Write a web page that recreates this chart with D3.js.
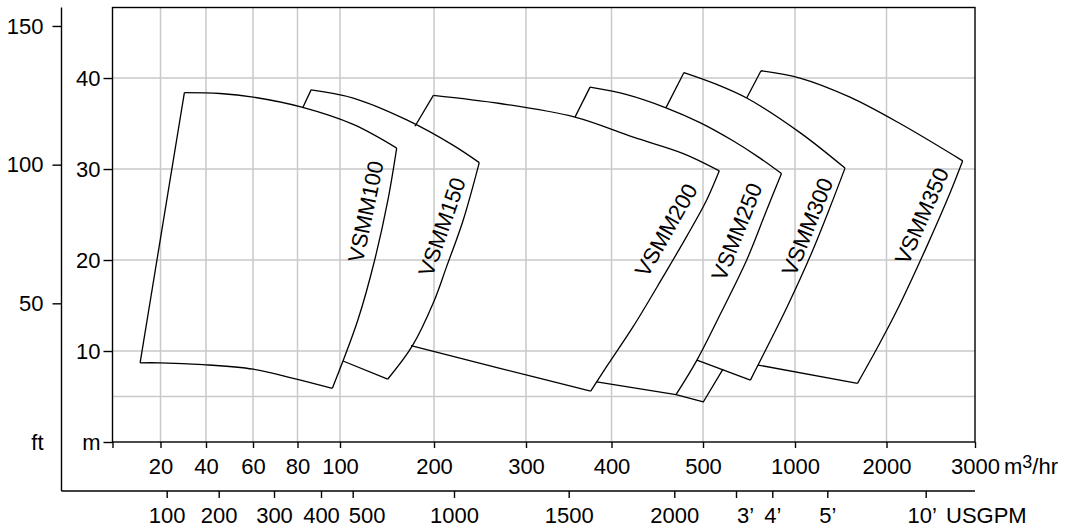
<!DOCTYPE html>
<html><head><meta charset="utf-8">
<script src="https://cdn.jsdelivr.net/npm/d3@7"></script>
<style>
html,body{margin:0;padding:0;background:#fff;}
svg{display:block;font-family:"Liberation Sans",Arial,Helvetica,sans-serif;}
</style></head><body>
<svg id="chart" width="1078" height="531"></svg>
<script>
// ---------------- data ----------------
const flowTicks = [0, 20, 40, 60, 80, 100, 200, 300, 400, 500, 1000, 2000, 3000];
const flowTickLabels = ["", "20", "40", "60", "80", "100", "200", "300", "400", "500", "1000", "2000", "3000"];
const gpmTicks = [100, 200, 300, 400, 500, 1000, 1500, 2000, 3000, 4000, 5000, 10000];
const gpmTickLabels = ["100", "200", "300", "400", "500", "1000", "1500", "2000", "3’", "4’", "5’", "10’"];
const headTicksM = [0, 10, 20, 30, 40];
const headTickLabelsM = ["m", "10", "20", "30", "40"];
const headGridM = [5, 10, 20, 30, 40];
const headTicksFt = [50, 100, 150];
const models = ["VSMM100", "VSMM150", "VSMM200", "VSMM250", "VSMM300", "VSMM350"];

// envelope edges: [flow m3/hr, head m]
const vsmm100Left   = [[11.5, 8.7], [30.5, 38.4]];
const vsmm100Top    = [[30.5, 38.4], [46, 38.3], [60.1, 37.9], [82, 36.8], [114.1, 34.9], [160.3, 32.3]];
const vsmm100Right  = [[160.3, 32.3], [151, 26.6], [136.9, 20], [119, 13.4], [96.4, 5.9]];
const vsmm100Bottom = [[96.4, 5.9], [78.1, 7.0], [60.1, 8.0], [38.8, 8.5], [19.8, 8.7], [11.5, 8.7]];

const vsmm150Left   = [[82.4, 36.7], [86.4, 38.7]];
const vsmm150Top    = [[86.4, 38.7], [114.1, 37.8], [171, 35.4], [221, 32.6], [249.2, 30.7]];
const vsmm150Right  = [[249.2, 30.7], [231.8, 24.4], [213.8, 19.3], [199.3, 15.3], [176.6, 10.5], [150.7, 6.9]];
const vsmm150Bottom = [[150.7, 6.9], [103.2, 8.9]];

const vsmm200Left   = [[179.8, 34.7], [199.3, 38.1]];
const vsmm200Top    = [[199.3, 38.1], [271.7, 37.2], [357.3, 35.7], [423.8, 33.5], [478.5, 31.7], [588.6, 29.8]];
const vsmm200Right  = [[588.6, 29.8], [520.1, 26.6], [482.2, 22.6], [456.6, 18.2], [423.8, 12.7], [394.4, 8.3], [375.7, 5.6]];
const vsmm200Bottom = [[375.7, 5.6], [271.7, 8.1], [175.5, 10.6]];

const vsmm250Left   = [[357.3, 35.7], [374.9, 39.0]];
const vsmm250Top    = [[374.9, 39.0], [415.8, 38.2], [460.3, 36.7], [496.7, 35.1], [663, 33.1], [809.8, 31.2], [926.6, 29.5]];
const vsmm250Right  = [[926.6, 29.5], [846.2, 25.5], [737.5, 20], [597.8, 14.2], [493.4, 9.0], [470.5, 5.2]];
const vsmm250Bottom = [[470.5, 5.2], [382.7, 6.6]];
const vsmm250Stub   = [[470.5, 5.2], [501.6, 4.4], [608.7, 8.0]];

const vsmm300Left   = [[459.6, 36.75], [479.2, 40.6]];
const vsmm300Top    = [[479.2, 40.6], [574.5, 39.3], [737.5, 37.8], [1054.6, 34.0], [1546.5, 30.1]];
const vsmm300Right  = [[1546.5, 30.1], [1386.9, 25.9], [1178.1, 20.7], [958.2, 14.9], [795.1, 8.3], [757.6, 6.8]];
const vsmm300Bottom = [[757.6, 6.8], [493.4, 9.0]];

const vsmm350Left   = [[737.5, 37.8], [815.2, 40.8]];
const vsmm350Top    = [[815.2, 40.8], [1054.6, 40.0], [1601.1, 37.9], [2152.5, 35.0], [2861, 30.9]];
const vsmm350Right  = [[2861, 30.9], [2715.2, 27.3], [2455.4, 21.5], [2119.8, 14.5], [1907.1, 10.5], [1683.1, 6.45]];
const vsmm350Bottom = [[1683.1, 6.45], [799, 8.46]];

// ---------------- layout ----------------
const svg = d3.select("#chart");
const plotL = 112.5, plotR = 975, plotT = 7.5, plotB = 442;
const outerL = 61.5, outerB = 491;
const FONT = 22;
// small horizontal nudges of crowded USGPM labels, as in the original drawing
const gpmLabelNudge = { 500: 14, 3000: 9, 10000: -4 };

// piecewise flow scale (the chart's own non-uniform flow axis)
const x = d3.scaleLinear()
  .domain(flowTicks)
  .range([112.5, 160.5, 206, 253, 297.5, 340, 434, 526, 611.5, 703, 795, 886.5, 975]);
const xg = d3.scaleLinear()
  .domain(gpmTicks)
  .range([166.7, 218.7, 274, 321, 352.7, 454, 568.7, 674.3, 736, 772.3, 827.3, 925.7]);
const yMax = 47.75;
const y = d3.scaleLinear().domain([0, yMax]).range([plotB, plotT]);
const yFt = d3.scaleLinear().domain([0, yMax * 3.28084]).range([plotB, plotT]);

svg.append("rect").attr("width", 1078).attr("height", 531).attr("fill", "#fff");

// grid
const grid = svg.append("g").attr("stroke", "#c9c9c9").attr("stroke-width", 1.5);
grid.selectAll(".gv").data(flowTicks.slice(1, -1)).join("line")
  .attr("x1", d => x(d)).attr("x2", d => x(d)).attr("y1", plotT).attr("y2", plotB);
grid.selectAll(".gh").data(headGridM).join("line")
  .attr("x1", plotL).attr("x2", plotR).attr("y1", d => y(d)).attr("y2", d => y(d));

// frame
svg.append("rect").attr("x", plotL).attr("y", plotT)
  .attr("width", plotR - plotL).attr("height", plotB - plotT)
  .attr("fill", "none").attr("stroke", "#000").attr("stroke-width", 1.4);
svg.append("line").attr("x1", outerL).attr("x2", outerL).attr("y1", plotT).attr("y2", outerB)
  .attr("stroke", "#000").attr("stroke-width", 1.4);
svg.append("line").attr("x1", outerL).attr("x2", plotR).attr("y1", outerB).attr("y2", outerB)
  .attr("stroke", "#000").attr("stroke-width", 1.4);

function styleAxis(g) {
  g.attr("font-family", null).attr("font-size", null);
  g.select(".domain").remove();
  g.selectAll(".tick line").attr("stroke", "#000").attr("stroke-width", 1.4);
  g.selectAll(".tick text").attr("fill", "#000").style("font-size", FONT + "px");
}

// flow axis (m3/hr)
svg.append("g").attr("transform", `translate(0,${plotB})`)
  .call(d3.axisBottom(x).tickValues(flowTicks).tickFormat((d, i) => flowTickLabels[i]).tickSize(6).tickPadding(10))
  .call(styleAxis);
const unitQ = svg.append("text").attr("x", 1004).attr("y", plotB + 16).attr("dy", "0.71em")
  .style("font-size", FONT + "px").attr("fill", "#000");
unitQ.append("tspan").text("m");
unitQ.append("tspan").attr("dy", -6).style("font-size", "18px").text("3");
unitQ.append("tspan").attr("dy", 6).text("/hr");

// USGPM axis
svg.append("g").attr("transform", `translate(0,${outerB})`)
  .call(d3.axisBottom(xg).tickValues(gpmTicks).tickFormat((d, i) => gpmTickLabels[i]).tickSize(7).tickPadding(9))
  .call(styleAxis)
  .call(g => g.selectAll(".tick text").attr("dx", d => gpmLabelNudge[d] || 0));
svg.append("text").attr("x", 946).attr("y", outerB + 16).attr("dy", "0.71em")
  .style("font-size", FONT + "px").attr("fill", "#000").text("USGPM");

// head axis (m)
svg.append("g").attr("transform", `translate(${plotL},0)`)
  .call(d3.axisLeft(y).tickValues(headTicksM).tickFormat((d, i) => headTickLabelsM[i]).tickSize(9).tickPadding(3))
  .call(styleAxis);

// head axis (ft)
svg.append("g").attr("transform", `translate(${outerL},0)`)
  .call(d3.axisLeft(yFt).tickValues(headTicksFt).tickSize(9).tickPadding(9))
  .call(styleAxis);
svg.append("text").attr("x", outerL - 18).attr("y", plotB + 1).attr("dy", "0.32em")
  .attr("text-anchor", "end").style("font-size", FONT + "px").attr("fill", "#000").text("ft");

// envelopes
const curved = d3.line().x(d => x(d[0])).y(d => y(d[1])).curve(d3.curveCatmullRom.alpha(0.5));
const straight = d3.line().x(d => x(d[0])).y(d => y(d[1]));
const env = svg.append("g").attr("fill", "none").attr("stroke", "#000").attr("stroke-width", 1.3)
  .attr("stroke-linejoin", "round");

const envelopes = [
  { left: vsmm100Left, top: vsmm100Top, right: vsmm100Right, bottom: vsmm100Bottom, extra: null, h: 24.9, off: 19.5 },
  { left: vsmm150Left, top: vsmm150Top, right: vsmm150Right, bottom: vsmm150Bottom, extra: null, h: 23.0, off: 18 },
  { left: vsmm200Left, top: vsmm200Top, right: vsmm200Right, bottom: vsmm200Bottom, extra: null, h: 22.15, off: 21 },
  { left: vsmm250Left, top: vsmm250Top, right: vsmm250Right, bottom: vsmm250Bottom, extra: vsmm250Stub, h: 22.3, off: 20 },
  { left: vsmm300Left, top: vsmm300Top, right: vsmm300Right, bottom: vsmm300Bottom, extra: null, h: 23.1, off: 14 },
  { left: vsmm350Left, top: vsmm350Top, right: vsmm350Right, bottom: vsmm350Bottom, extra: null, h: 24.1, off: 17 }
];

envelopes.forEach((e, i) => {
  env.append("path").attr("d", straight(e.left));
  env.append("path").attr("d", curved(e.top));
  const rp = env.append("path").attr("d", curved(e.right));
  env.append("path").attr("d", e.bottom.length > 2 ? curved(e.bottom) : straight(e.bottom));
  if (e.extra) env.append("path").attr("d", straight(e.extra));

  // label along right edge
  const node = rp.node();
  const L = node.getTotalLength();
  const ty = y(e.h);
  let best = 0, bd = Infinity;
  for (let s = 0; s <= L; s += 0.5) {
    const p = node.getPointAtLength(s);
    const dd = Math.abs(p.y - ty);
    if (dd < bd) { bd = dd; best = s; }
  }
  const p = node.getPointAtLength(best);
  const p1 = node.getPointAtLength(Math.max(0, best - 8));
  const p2 = node.getPointAtLength(Math.min(L, best + 8));
  let ux = p1.x - p2.x, uy = p1.y - p2.y;
  const n = Math.hypot(ux, uy); ux /= n; uy /= n;
  const ang = Math.atan2(uy, ux) * 180 / Math.PI;
  const cx = p.x + e.off * uy, cy = p.y - e.off * ux;
  svg.append("text")
    .attr("transform", `translate(${cx},${cy}) rotate(${ang})`)
    .attr("text-anchor", "middle").attr("dy", "0.35em")
    .style("font-size", FONT + "px").attr("fill", "#000")
    .text(models[i]);
});
</script>
</body></html>
